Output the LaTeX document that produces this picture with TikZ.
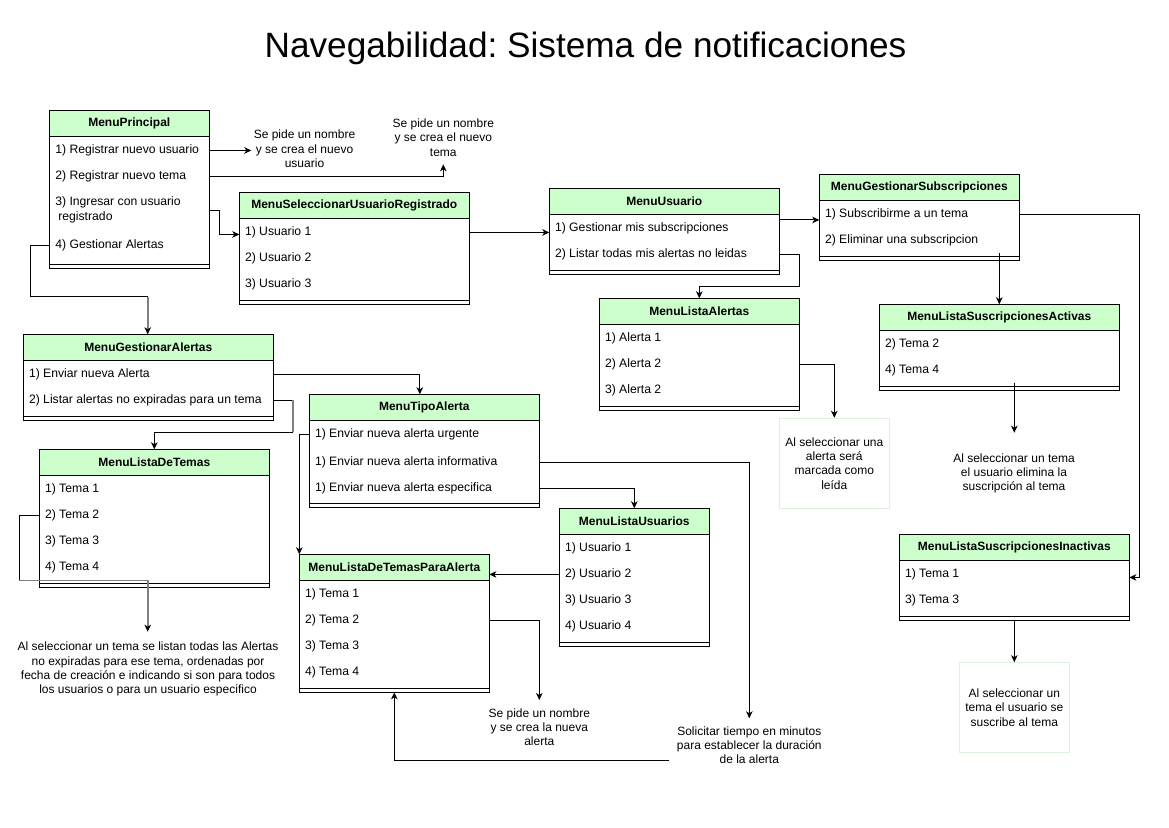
\documentclass[tikz,border=0pt]{standalone}
\usepackage{fontspec}
\setmainfont{Liberation Sans}
\usetikzlibrary{arrows.meta,calc}
\definecolor{hdr}{RGB}{204,255,204}
\definecolor{notebd}{RGB}{222,240,222}
\definecolor{grayln}{RGB}{128,128,128}
\frenchspacing
\newcommand\itemfont{\fontsize{12.2}{14.4}\selectfont}
\newcommand\umlclass[6]{%
  \node[clsbox, minimum width=#4, minimum height=#5, anchor=north west] (#1) at (#2,#3) {};
  \node[clshead, minimum width=#4, anchor=north west] (#1h) at (#2,#3) {#6};
  \draw ($(#1.south west)+(0,-4)$) -- ($(#1.south east)+(0,-4)$);
}
\begin{document}
\begin{tikzpicture}[x=1pt,y=-1pt, line width=1pt,
  clsbox/.style={draw, fill=white, inner sep=0pt, outer sep=0pt},
  clshead/.style={draw, fill=hdr, inner sep=0pt, outer sep=0pt, minimum height=26pt, font=\fontsize{12}{14}\selectfont\bfseries},
  itm/.style={anchor=base west, inner sep=0pt, outer sep=0pt, yshift=-4.3pt, font=\itemfont},
  itmtwo/.style={anchor=west, inner sep=0pt, outer sep=0pt, align=left, font=\fontsize{12.2}{15}\selectfont},
  note/.style={align=center, inner sep=0pt, font=\fontsize{12}{14.3}\selectfont},
  notebox/.style={note, draw=notebd, minimum width=110pt, minimum height=90pt},
  arr/.style={-{Stealth[length=7pt,width=6.5pt,inset=2pt,color=black]}},
  grayseg/.style={draw=grayln, line width=1.6pt},
]
\fill[white] (0,0) rectangle (1169,827);
\useasboundingbox (0,0) rectangle (1169,827);

\node[anchor=base, inner sep=0pt, font=\fontsize{35.2}{40}\selectfont] (title) at (585.5,57.7) {\frenchspacing Navegabilidad: Sistema de notificaciones};

% ---------- classes ----------
\umlclass{mp}{49.3}{110}{160}{158.3}{MenuPrincipal}
\node[itm] (mp1) at (55.3,149.3) {1) Registrar nuevo usuario};
\node[itm] (mp2) at (55.3,175.3) {2) Registrar nuevo tema};
\node[itmtwo] (mp3) at (55.3,210) {3) Ingresar con usuario\\\hspace*{3pt}registrado};
\node[itm] (mp4) at (55.3,244) {4) Gestionar Alertas};

\umlclass{msu}{239.3}{192.3}{230}{112}{MenuSeleccionarUsuarioRegistrado}
\node[itm] (msu1) at (245,231.3) {1) Usuario 1};
\node[itm] (msu2) at (245,257.3) {2) Usuario 2};
\node[itm] (msu3) at (245,283.3) {3) Usuario 3};

\umlclass{mu}{549.3}{188.3}{230}{86}{MenuUsuario}
\node[itm] (mu1) at (555,227.3) {1) Gestionar mis subscripciones};
\node[itm] (mu2) at (555,253.3) {2) Listar todas mis alertas no leidas};

\umlclass{mgs}{819.3}{174.3}{200}{86}{MenuGestionarSubscripciones}
\node[itm] (mgs1) at (825,213.3) {1) Subscribirme a un tema};
\node[itm] (mgs2) at (825,239.3) {2) Eliminar una subscripcion};

\umlclass{mla}{599.3}{298.3}{200}{112}{MenuListaAlertas}
\node[itm] (mla1) at (605,337.3) {1) Alerta 1};
\node[itm] (mla2) at (605,363.3) {2) Alerta 2};
\node[itm] (mla3) at (605,389.3) {3) Alerta 2};

\umlclass{msa}{879.3}{304.3}{240}{86}{MenuListaSuscripcionesActivas}
\node[itm] (msa1) at (885,343.3) {2) Tema 2};
\node[itm] (msa2) at (885,369.3) {4) Tema 4};

\umlclass{msi}{899.3}{534.3}{230}{86}{MenuListaSuscripcionesInactivas}
\node[itm] (msi1) at (905,573.3) {1) Tema 1};
\node[itm] (msi2) at (905,599.3) {3) Tema 3};

\umlclass{mga}{23.3}{334.3}{250}{86}{MenuGestionarAlertas}
\node[itm] (mga1) at (29,373.3) {1) Enviar nueva Alerta};
\node[itm] (mga2) at (29,399.3) {2) Listar alertas no expiradas para un tema};

\umlclass{mta}{309.3}{394.3}{230}{113.4}{MenuTipoAlerta}
\node[itm] (mta1) at (315,433.3) {1) Enviar nueva alerta urgente};
\node[itm] (mta2) at (315,461.3) {1) Enviar nueva alerta informativa};
\node[itm] (mta3) at (315,487.3) {1) Enviar nueva alerta especifica};

\umlclass{mlt}{39.3}{449.3}{230}{138}{MenuListaDeTemas}
\node[itm] (mlt1) at (45,488.3) {1) Tema 1};
\node[itm] (mlt2) at (45,514.3) {2) Tema 2};
\node[itm] (mlt3) at (45,540.3) {3) Tema 3};
\node[itm] (mlt4) at (45,566.3) {4) Tema 4};

\umlclass{mtpa}{299.3}{554.3}{190}{138}{MenuListaDeTemasParaAlerta}
\node[itm] (mtpa1) at (305,593.3) {1) Tema 1};
\node[itm] (mtpa2) at (305,619.3) {2) Tema 2};
\node[itm] (mtpa3) at (305,645.3) {3) Tema 3};
\node[itm] (mtpa4) at (305,671.3) {4) Tema 4};

\umlclass{mlu}{559.3}{508.3}{150}{138}{MenuListaUsuarios}
\node[itm] (mlu1) at (565,547.3) {1) Usuario 1};
\node[itm] (mlu2) at (565,573.3) {2) Usuario 2};
\node[itm] (mlu3) at (565,599.3) {3) Usuario 3};
\node[itm] (mlu4) at (565,625.3) {4) Usuario 4};

% ---------- notes ----------
\node[note] (n1) at (304.5,149) {Se pide un nombre\\y se crea el nuevo\\usuario};
\node[note] (n2) at (443.3,137.5) {Se pide un nombre\\y se crea el nuevo\\tema};
\node[notebox] (n3) at (834.3,463.3) {Al seleccionar una\\alerta será\\marcada como\\leída};
\node[note] (n4) at (1014,473.3) {Al seleccionar un tema\\el usuario elimina la\\suscripción al tema};
\node[notebox, minimum height=89.6pt] (n5) at (1014.3,707.5) {Al seleccionar un\\tema el usuario se\\suscribe al tema};
\node[note] (n6) at (148,669.3) {Al seleccionar un tema se listan todas las Alertas\\no expiradas para ese tema, ordenadas por\\fecha de creación e indicando si son para todos\\los usuarios o para un usuario especifico};
\node[note] (n7) at (539.3,727) {Se pide un nombre\\y se crea la nueva\\alerta};
\node[note] (n8) at (749.3,745) {Solicitar tiempo en minutos\\para establecer la duración\\de la alerta};

\coordinate (n2tip) at (443.3,164.3);
\coordinate (n4tip) at (1014.3,432.7);
\coordinate (n6tip) at (147.7,631.7);
\coordinate (n7tip) at (539.3,700);
\coordinate (n8tip) at (749.3,718.3);
\coordinate (n8src) at (669.3,760);

% ---------- connectors ----------
\draw[arr] (mp.east |- mp1) -- ($(n1.west |- mp1)+(-2,0)$);
\draw[arr] (mp.east |- mp2) -| (n2tip);
\draw[arr] (mp.east |- mp3) -- ++(10,0) |- ($(msu.west |- msu1)+(0,2)$);
\draw (mp.west |- mp4) -- ++(-19.3,0) -- ++(0,51.5) -- ++(117.7,0) coordinate (c4a);
\draw[grayseg, arr] (c4a) -- (c4a |- mga.north);

\draw[arr] (msu.east |- msu1) -- (mu.west |- msu1);
\draw[arr] ($(mu.east |- mu1)+(0,-8.5)$) -- ($(mgs.west |- mu1)+(0,-8.5)$);
\draw[arr] (mu.east |- mu2) -- ++(20,0) |- ($(mla.north)+(0,-12)$) -- (mla.north);
\draw[arr] (mgs.east |- mgs1) -- ++(120,0) |- ($(msi.east |- msi1)+(0,3)$);
\draw[arr] ($(msa.north |- mgs2)+(0,13)$) -- (msa.north);
\draw[arr] ($(n4tip |- msa.south)+(0,-7)$) -- (n4tip);
\draw[arr] (msi.south) -- (n5.north);
\draw[arr] (mla.east |- mla2) -| (n3.north);

\draw[arr] (mga.east |- mga1) -| ($(mta.north)+(-4.5,0)$);
\draw (mga.east |- mga2) -- ++(19.7,0) coordinate (c14a);
\draw[grayseg] (c14a) -- ++(0,32) coordinate (c14b);
\draw[arr] (c14b) -| (mlt.north);

\draw (mlt.west |- mlt2) -- ++(-20.3,0) -- ++(0,65) coordinate (c15a);
\draw[grayseg, arr] (c15a) -| (n6tip);

\draw[arr] (mta.west |- mta1) -| (mtpa.north west);
\draw[arr] (mta.east |- mta2) -| (n8tip);
\draw[arr] (mta.east |- mta3) -| (mlu.north);
\draw[arr] (mlu.west |- mlu2) -- (mtpa.east |- mlu2);
\draw[arr] (mtpa.east |- mtpa2) -| (n7tip);
\draw[arr] (n8src) -| (mtpa.south);
\end{tikzpicture}
\end{document}
